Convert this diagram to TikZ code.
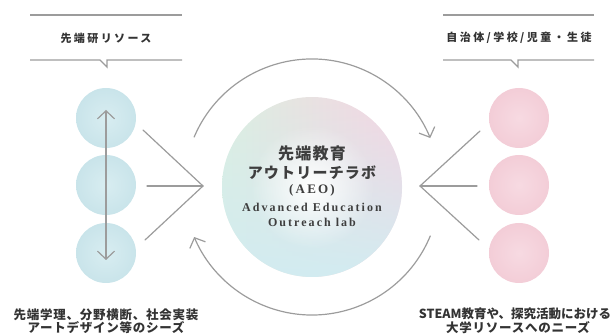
\documentclass[tikz,border=0pt]{standalone}
\usepackage{fontspec}
\setmainfont{Liberation Serif}
\newfontfamily\jphead{Noto Sans CJK JP}[LetterSpace=22]
\newfontfamily\jpbody{Noto Sans CJK JP}[LetterSpace=6]
\newfontfamily\jpbodyn{Noto Sans CJK JP}
\newfontfamily\jpcent{Noto Sans CJK JP}[LetterSpace=8]
\newfontfamily\sersp{Liberation Serif}[LetterSpace=17]
\usetikzlibrary{arrows.meta,fadings}
\definecolor{linegray}{HTML}{9C9C9C}
\definecolor{txt}{HTML}{333333}
\definecolor{ctxt}{HTML}{3E3E3E}
\definecolor{bluein}{HTML}{D8EDF1}
\definecolor{blueout}{HTML}{C9E4EA}
\definecolor{pinkin}{HTML}{F7DAE2}
\definecolor{pinkout}{HTML}{F3CDD7}
\definecolor{cgreen}{HTML}{DCEFE1}
\definecolor{cpink}{HTML}{F6D4E2}
\definecolor{ccyan}{HTML}{D2ECF1}
\tikzfading[name=fadeout, inner color=transparent!0, outer color=transparent!100]
\tikzset{
  conn/.style={draw=linegray, line width=1.2pt, line cap=round, line join=round},
  hline/.style={draw=linegray, line width=1.3pt},
  barb/.style={-{Straight Barb[length=8pt,width=17pt,line width=1.2pt]}},
  headtxt/.style={font=\jphead\bfseries\fontsize{11}{13}\selectfont, text=txt, inner sep=0pt},
  bodytxt/.style={font=\jpbody\bfseries\fontsize{12.5}{14}\selectfont, text=txt, inner sep=0pt, align=center},
  bodytxtn/.style={font=\jpbodyn\bfseries\fontsize{12.5}{14}\selectfont, text=txt, inner sep=0pt, align=center},
  bluecirc/.style={circle, minimum size=60pt, inner sep=0pt, inner color=bluein, outer color=blueout},
  pinkcirc/.style={circle, minimum size=60pt, inner sep=0pt, inner color=pinkin, outer color=pinkout},
}
\begin{document}
\begin{tikzpicture}[x=1pt,y=-1pt]
\useasboundingbox (0,0) rectangle (616,336);
% headers
\draw[hline] (30,15) -- (182,15);
\draw[hline] (30,60) -- (100,60) -- (107,67) -- (107,60) -- (182,60);
\node[headtxt] (lhead) at (106,38) {先端研リソース};
\draw[hline] (443,15) -- (594,15);
\draw[hline] (443,60) -- (511,60) -- (518,67) -- (518,60) -- (594,60);
\node[headtxt] (rhead) at (519,38) {自治体/学校/児童・生徒};
% side circles
\node[bluecirc] (l1) at (106,118) {};
\node[bluecirc] (l2) at (106,185) {};
\node[bluecirc] (l3) at (106,253) {};
\node[pinkcirc] (r1) at (519,118) {};
\node[pinkcirc] (r2) at (519,185) {};
\node[pinkcirc] (r3) at (519,253) {};
% vertical double arrow
\coordinate (vt) at (106,110);
\coordinate (vb) at (106,260);
\draw[conn, {Straight Barb[length=8pt,width=17pt,line width=1.2pt]}-{Straight Barb[length=8pt,width=17pt,line width=1.2pt]}] (vt) -- (vb);
% center circle
\coordinate (c) at (312,187);
\shade[left color=cgreen, right color=cpink] (c) circle[radius=90pt];
\fill[ccyan, path fading=north] (c) circle[radius=90pt];
\fill[white, path fading=fadeout] (c) circle[radius=62pt];
\node[font=\jpcent\bfseries\fontsize{16}{18}\selectfont, text=ctxt, inner sep=0pt] (t1) at (312,153) {先端教育};
\node[font=\jpcent\bfseries\fontsize{15}{17}\selectfont, text=ctxt, inner sep=0pt] (t2) at (312,172.5) {アウトリーチラボ};
\node[font=\sersp\bfseries\fontsize{13}{15}\selectfont, text=ctxt, inner sep=0pt] (t3) at (312,190) {(AEO)};
\node[font=\sersp\bfseries\fontsize{12}{14}\selectfont, text=ctxt, inner sep=0pt] (t4) at (312,207.5) {Advanced Education};
\node[font=\sersp\bfseries\fontsize{12}{14}\selectfont, text=ctxt, inner sep=0pt] (t5) at (312,222) {Outreach lab};
% cycle arcs
\draw[conn, barb] (c) ++(157:128pt) arc[start angle=157, end angle=22.5, radius=128pt];
\draw[conn, barb] (c) ++(-22.5:128pt) arc[start angle=-22.5, end angle=-157, radius=128pt];
% chevrons
\coordinate (lv) at (203,186);
\coordinate (la) at (143,130);
\coordinate (lb) at (147,186);
\coordinate (lc) at (145,240);
\draw[conn] (la) -- (lv) -- (lc);
\draw[conn] (lb) -- (lv);
\coordinate (rv) at (420,186);
\coordinate (ra) at (480,131);
\coordinate (rb) at (477,186);
\coordinate (rc) at (479,240);
\draw[conn] (ra) -- (rv) -- (rc);
\draw[conn] (rb) -- (rv);
% bottom texts
\node[bodytxt] (lb1) at (106,315) {先端学理、分野横断、社会実装};
\node[bodytxt] (lb2) at (106,328) {アートデザイン等のシーズ};
\node[bodytxtn] (rb1) at (515,314) {STEAM教育や、探究活動における};
\node[bodytxt] (rb2) at (518,328) {大学リソースへのニーズ};
\end{tikzpicture}
\end{document}
